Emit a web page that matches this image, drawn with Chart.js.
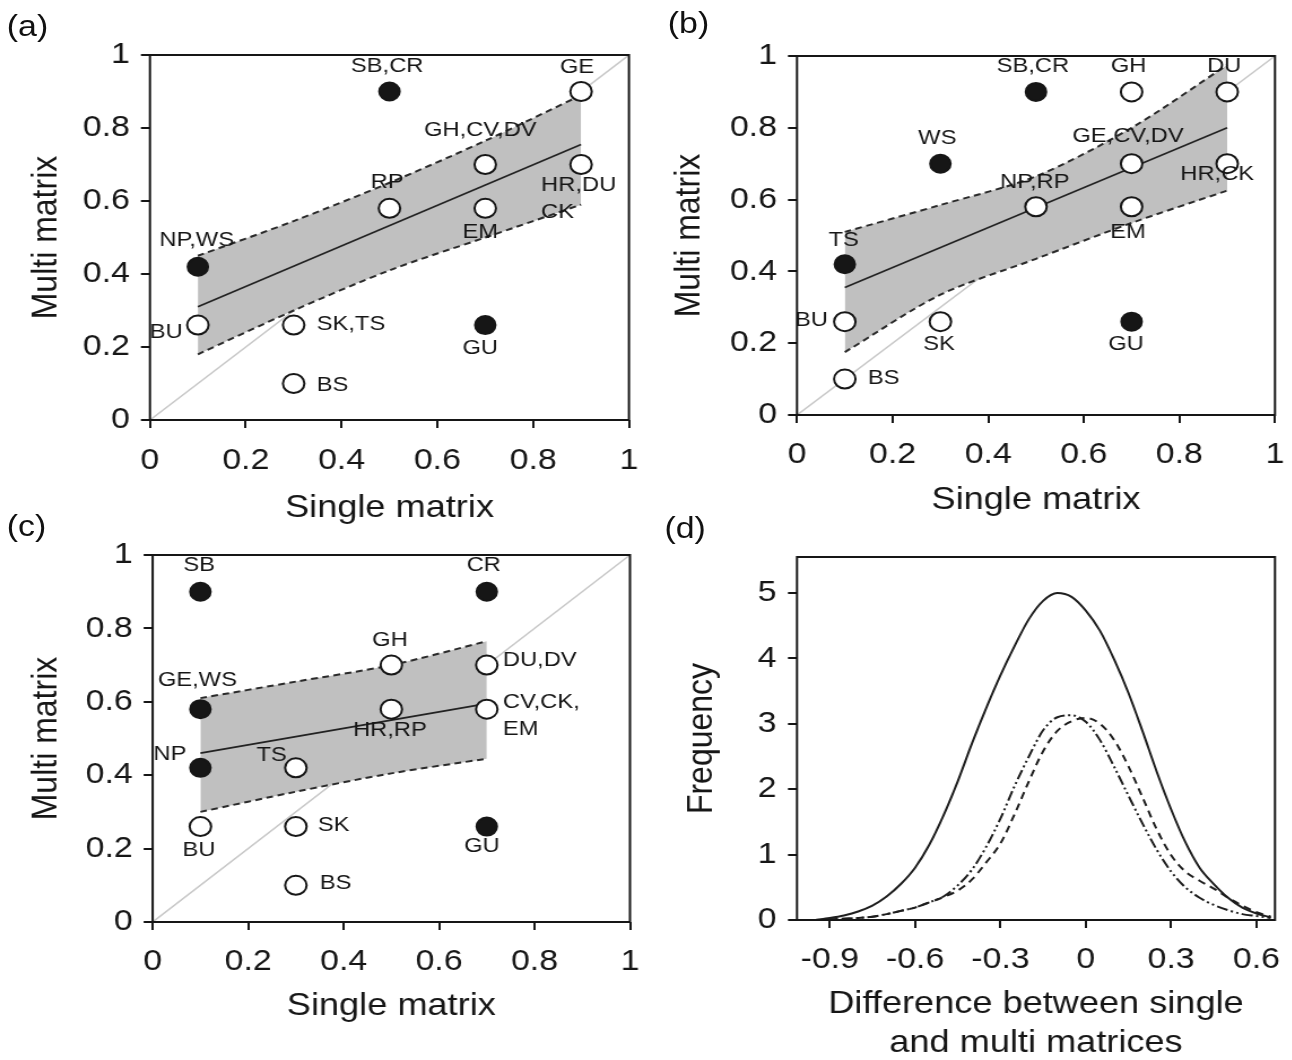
<!DOCTYPE html>
<html>
<head>
<meta charset="utf-8">
<script src="https://cdn.jsdelivr.net/npm/chart.js@4.4.0/dist/chart.umd.min.js"></script>
<style>
html, body { margin: 0; padding: 0; background: #fff; overflow: hidden; }
#wrap { position: absolute; left: 0; top: 0; width: 1144px; height: 1060px; transform: scaleX(1.13); transform-origin: 0 0; }
#wrap canvas { position: absolute; }
.tag { position: absolute; font: 30px 'Liberation Sans', Arial, sans-serif; line-height: 36px; color: #111; }
</style>
</head>
<body>
<div id="wrap">
  <canvas id="pa" width="580" height="540" style="left:0px;top:0px"></canvas>
  <canvas id="pb" width="570" height="540" style="left:572px;top:0px"></canvas>
  <canvas id="pc" width="580" height="540" style="left:0px;top:500px"></canvas>
  <canvas id="pd" width="570" height="563" style="left:572px;top:500px"></canvas>
  <div class="tag" style="left:6px;top:8px">(a)</div>
  <div class="tag" style="left:591px;top:5px">(b)</div>
  <div class="tag" style="left:6px;top:508px">(c)</div>
  <div class="tag" style="left:588px;top:510px">(d)</div>
</div>
<script>
// panel (a)
var aNames  = ['SB,CR', 'GE', 'GH,CV,DV', 'HR,DU\nCK', 'RP', 'EM', 'NP,WS', 'BU', 'SK,TS', 'GU', 'BS'];
var aSingle = [0.5, 0.9, 0.7, 0.9, 0.5, 0.7, 0.1, 0.1, 0.3, 0.7, 0.3];
var aMulti  = [0.9, 0.9, 0.7, 0.7, 0.58, 0.58, 0.42, 0.26, 0.26, 0.26, 0.1];
var aSig    = [1, 0, 0, 0, 0, 0, 1, 0, 0, 1, 0];
var aFitX = [0.1, 0.9];
var aFitY = [0.31, 0.755];
var aBandX = [0.1, 0.3, 0.5, 0.7, 0.9];
var aUpper = [0.45, 0.545, 0.65, 0.765, 0.89];
var aLower = [0.18, 0.30, 0.41, 0.50, 0.59];

// panel (b)
var bNames  = ['SB,CR', 'GH', 'DU', 'WS', 'GE,CV,DV', 'HR,CK', 'NP,RP', 'EM', 'TS', 'BU', 'SK', 'GU', 'BS'];
var bSingle = [0.5, 0.7, 0.9, 0.3, 0.7, 0.9, 0.5, 0.7, 0.1, 0.1, 0.3, 0.7, 0.1];
var bMulti  = [0.9, 0.9, 0.9, 0.7, 0.7, 0.7, 0.58, 0.58, 0.42, 0.26, 0.26, 0.26, 0.1];
var bSig    = [1, 0, 0, 1, 0, 0, 0, 0, 1, 0, 0, 1, 0];
var bFitX = [0.1, 0.9];
var bFitY = [0.355, 0.80];
var bBandX = [0.1, 0.3, 0.5, 0.7, 0.9];
var bUpper = [0.51, 0.585, 0.665, 0.80, 0.975];
var bLower = [0.175, 0.335, 0.435, 0.535, 0.625];

// panel (c)
var cNames  = ['SB', 'CR', 'GH', 'DU,DV', 'GE,WS', 'HR,RP', 'CV,CK,\nEM', 'NP', 'TS', 'BU', 'SK', 'GU', 'BS'];
var cSingle = [0.1, 0.7, 0.5, 0.7, 0.1, 0.5, 0.7, 0.1, 0.3, 0.1, 0.3, 0.7, 0.3];
var cMulti  = [0.9, 0.9, 0.7, 0.7, 0.58, 0.58, 0.58, 0.42, 0.42, 0.26, 0.26, 0.26, 0.1];
var cSig    = [1, 1, 0, 0, 1, 0, 0, 1, 0, 0, 0, 1, 0];
var cFitX = [0.1, 0.7];
var cFitY = [0.46, 0.595];
var cBandX = [0.1, 0.3, 0.5, 0.7];
var cUpper = [0.61, 0.655, 0.70, 0.765];
var cLower = [0.30, 0.355, 0.405, 0.445];

// 1:1 reference line
var diagX = [0, 1];
var diagY = [0, 1];

// panel (d): density of the difference
var dX = [-0.95, -0.9, -0.85, -0.8, -0.75, -0.7, -0.65, -0.6, -0.55, -0.5, -0.45, -0.4, -0.35, -0.3, -0.25, -0.2, -0.15,
          -0.1, -0.05, 0, 0.05, 0.1, 0.15, 0.2, 0.25, 0.3, 0.35, 0.4, 0.45, 0.5, 0.55, 0.6, 0.65];
var dSolid = [0, 0.03, 0.07, 0.13, 0.22, 0.36, 0.55, 0.80, 1.15, 1.60, 2.12, 2.70, 3.24, 3.74, 4.19, 4.60, 4.88,
              5.00, 4.94, 4.73, 4.42, 3.98, 3.47, 2.88, 2.26, 1.69, 1.19, 0.80, 0.55, 0.34, 0.19, 0.10, 0.04];
var dDash  = [0, 0.01, 0.02, 0.03, 0.05, 0.09, 0.14, 0.19, 0.27, 0.35, 0.45, 0.62, 0.88, 1.17, 1.62, 2.12, 2.58,
              2.89, 3.04, 3.09, 3.00, 2.75, 2.35, 1.87, 1.38, 0.99, 0.74, 0.60, 0.48, 0.34, 0.22, 0.12, 0.05];
var dDot   = [0, 0.01, 0.02, 0.03, 0.05, 0.09, 0.14, 0.19, 0.27, 0.36, 0.53, 0.77, 1.12, 1.55, 2.05, 2.50, 2.90,
              3.10, 3.13, 3.03, 2.75, 2.34, 1.90, 1.47, 1.07, 0.74, 0.50, 0.34, 0.23, 0.15, 0.09, 0.06, 0.03];
var dTicksX = [-0.9, -0.6, -0.3, 0, 0.3, 0.6];

var FONT = "'Liberation Sans', Arial, sans-serif";
var INK = '#161616';

// label offsets [dx, dy, align] from the point centre
var aPos = [[-2, -25, 'center'], [-3.5, -24, 'center'], [-4.4, -34, 'center'], [-35.4, 21, 'left'], [-2, -26, 'center'],
            [-4.4, 24, 'center'], [-1, -26, 'center'], [-13.3, 7, 'right'], [20.4, -1, 'left'], [-4.4, 23, 'center'], [20.4, 2, 'left']];
var bPos = [[-2.7, -25.5, 'center'], [-2.7, -25.5, 'center'], [-2.7, -25.5, 'center'], [-2.7, -25, 'center'], [-3.2, -27, 'center'],
            [-8.8, 11, 'center'], [-1, -25, 'center'], [-3.2, 25, 'center'], [-1, -24, 'center'], [-15, -1.5, 'right'],
            [-1.2, 23, 'center'], [-5, 23, 'center'], [20.4, -1, 'left']];
var cPos = [[-1.2, -26, 'center'], [-2.7, -26, 'center'], [-1.2, -25, 'center'], [14.2, -5, 'left'], [-2.7, -29, 'center'],
            [-1.2, 21, 'center'], [14.2, -7, 'left'], [-12.4, -14, 'right'], [-8, -13, 'right'], [-1.2, 23.6, 'center'],
            [19.5, -1, 'left'], [-4.4, 20, 'center'], [21.2, -2, 'left']];

var pts = (xs, ys) => xs.map((x, i) => ({ x: x, y: ys[i] }));

var framePlugin = {
  id: 'frame',
  afterDraw: (chart) => {
    var a = chart.chartArea, c = chart.ctx;
    c.save();
    c.strokeStyle = INK;
    c.lineWidth = 2;
    c.strokeRect(a.left, a.top, a.right - a.left, a.bottom - a.top);
    c.restore();
  }
};

var makeTags = (names, pos) => ({
  id: 'tags',
  afterDatasetsDraw: (chart) => {
    var c = chart.ctx;
    c.save();
    c.font = '21px ' + FONT;
    c.fillStyle = INK;
    c.textBaseline = 'middle';
    chart.getDatasetMeta(0).data.forEach((pt, i) => {
      var p = pos[i];
      c.textAlign = p[2];
      names[i].split('\n').forEach((line, k) => {
        c.fillText(line, pt.x + p[0], pt.y + p[1] + k * 27);
      });
    });
    c.restore();
  }
});

var fixSize = (prop, size) => (s) => {
  s[prop] = size;
  s.paddingLeft = s.paddingRight = s.paddingTop = s.paddingBottom = 0;
};

var axis = (opt) => ({
  type: 'linear',
  min: opt.min,
  max: opt.max,
  afterFit: fixSize(opt.prop, opt.size),
  afterBuildTicks: opt.ticks ? (s) => { s.ticks = opt.ticks.map(v => ({ value: v })); } : undefined,
  ticks: {
    stepSize: opt.step,
    includeBounds: false,
    autoSkip: false,
    maxRotation: 0,
    padding: opt.tickPad,
    color: INK,
    font: { family: FONT, size: 30 },
    callback: (v) => String(Math.round(v * 10) / 10)
  },
  grid: { drawOnChartArea: false, drawTicks: true, tickLength: 8, color: INK, lineWidth: 2 },
  border: { display: false },
  title: {
    display: true,
    text: opt.title,
    color: INK,
    font: { family: FONT, size: 32 },
    padding: opt.titlePad
  }
});

var base = (pad) => ({
  responsive: false,
  animation: false,
  events: [],
  layout: { padding: pad },
  plugins: {
    legend: { display: false },
    tooltip: { enabled: false },
    filler: { drawTime: 'beforeDatasetDraw' }
  }
});

var scatterPanel = (id, d, box) => {
  var opts = base({ left: 0, top: box.top, right: box.right, bottom: 0 });
  opts.scales = {
    x: axis({ min: 0, max: 1, step: 0.2, prop: 'height', size: box.xh, tickPad: box.xPad,
              title: 'Single matrix', titlePad: { top: 0, bottom: box.xTitle } }),
    y: axis({ min: 0, max: 1, step: 0.2, prop: 'width', size: box.yw, tickPad: 9.7,
              title: 'Multi matrix', titlePad: { top: box.yTitle, bottom: 0 } })
  };
  new Chart(document.getElementById(id), {
    type: 'scatter',
    data: {
      datasets: [
        {
          data: pts(d.single, d.multi),
          pointRadius: d.sig.map(s => s ? 9 : 9.5),
          pointBackgroundColor: d.sig.map(s => s ? INK : '#ffffff'),
          pointBorderColor: INK,
          pointBorderWidth: 2
        },
        { type: 'line', data: pts(d.fitX, d.fitY), borderColor: '#222', borderWidth: 1.7, pointRadius: 0 },
        { type: 'line', data: pts(d.bandX, d.upper), borderColor: '#2a2a2a', borderWidth: 2, borderDash: [6, 4],
          pointRadius: 0, tension: 0.3 },
        { type: 'line', data: pts(d.bandX, d.lower), borderColor: '#2a2a2a', borderWidth: 2, borderDash: [6, 4],
          pointRadius: 0, tension: 0.3, fill: '-1', backgroundColor: '#c0c0c0' },
        { type: 'line', data: pts(diagX, diagY), borderColor: '#c8c8c8', borderWidth: 1.5, pointRadius: 0 }
      ]
    },
    options: opts,
    plugins: [framePlugin, makeTags(d.names, d.pos)]
  });
};

scatterPanel('pa', { names: aNames, single: aSingle, multi: aMulti, sig: aSig, fitX: aFitX, fitY: aFitY,
                     bandX: aBandX, upper: aUpper, lower: aLower, pos: aPos },
             { top: 55, right: 23.4, xh: 120, yw: 132.7, xPad: 15, xTitle: 12.8, yTitle: 21.5 });
scatterPanel('pb', { names: bNames, single: bSingle, multi: bMulti, sig: bSig, fitX: bFitX, fitY: bFitY,
                     bandX: bBandX, upper: bUpper, lower: bLower, pos: bPos },
             { top: 56, right: 13.7, xh: 125, yw: 133.3, xPad: 14, xTitle: 20.8, yTitle: 19.4 });
scatterPanel('pc', { names: cNames, single: cSingle, multi: cMulti, sig: cSig, fitX: cFitX, fitY: cFitY,
                     bandX: cBandX, upper: cUpper, lower: cLower, pos: cPos },
             { top: 55, right: 22.5, xh: 118, yw: 135.1, xPad: 14, xTitle: 14.8, yTitle: 22.4 });

// panel (d)
var dOpts = base({ left: 0, top: 57, right: 13.7, bottom: 0 });
dOpts.scales = {
  x: axis({ min: -1.015, max: 0.665, ticks: dTicksX, prop: 'height', size: 143, tickPad: 14,
            title: ['Difference between single', 'and multi matrices'], titlePad: { top: 0, bottom: 0.8 } }),
  y: axis({ min: 0, max: 5.55, step: 1, prop: 'width', size: 133.3, tickPad: 10,
            title: 'Frequency', titlePad: { top: 30, bottom: 0 } })
};
var curve = (ys, dash) => ({
  data: pts(dX, ys), borderColor: '#1e1e1e', borderWidth: 2, borderDash: dash,
  pointRadius: 0, cubicInterpolationMode: 'monotone', fill: false
});
new Chart(document.getElementById('pd'), {
  type: 'line',
  data: { datasets: [curve(dSolid, []), curve(dDash, [7, 5]), curve(dDot, [10, 3, 2, 3, 2, 3])] },
  options: dOpts,
  plugins: [framePlugin]
});
</script>
</body>
</html>
